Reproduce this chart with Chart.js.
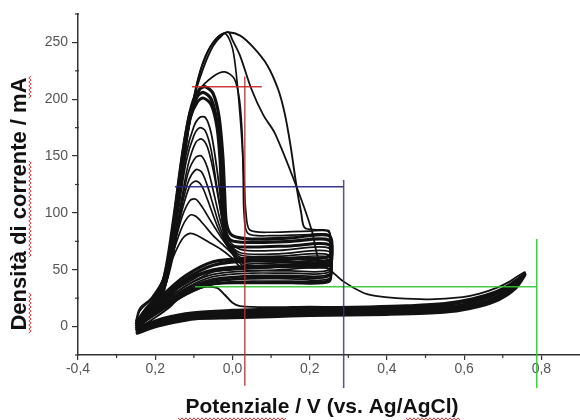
<!DOCTYPE html>
<html>
<head>
<meta charset="utf-8">
<script src="https://cdn.jsdelivr.net/npm/chart.js@4.4.1/dist/chart.umd.min.js"></script>
<style>
  html, body { margin: 0; padding: 0; background: #fff; }
  #wrap { width: 580px; height: 420px; position: relative; }
</style>
</head>
<body>
<div id="wrap"><canvas id="cvChart"></canvas></div>
<script>
// Tick labels (as printed on the original figure)
const xTickValues = [-0.4, -0.2, 0.0, 0.2, 0.4, 0.6, 0.8];
const xTickLabels = ["-0,4", "0,2", "0,0", "0,2", "0,4", "0,6", "0,8"];
const xMinorTicks = [-0.3, -0.1, 0.1, 0.3, 0.5, 0.7];
const yTickValues = [0, 50, 100, 150, 200, 250];
const yTickLabels = ["0", "50", "100", "150", "200", "250"];
const yMinorTicks = [-25, 25, 75, 125, 175, 225, 275];

const xTitle = "Potenziale / V (vs. Ag/AgCl)";
const yTitle = "Densità di corrente / mA";

// Cycles to 0.75 V (bottom band)
const baseCycle1 = [[-0.25,-6],[-0.2,0],[-0.15,4],[-0.1,7],[0.0,8],[0.1,9],[0.2,10],[0.3,10.5],[0.4,11],[0.5,12],[0.58,14],[0.64,18],[0.69,24],[0.73,33],[0.757,46],[0.73,38],[0.69,30],[0.64,23],[0.58,18],[0.5,16],[0.4,15],[0.3,14],[0.2,13.5],[0.1,13],[0.0,12],[-0.1,10],[-0.18,5],[-0.25,-4]];
const baseCycle2 = [[-0.25,-4],[-0.2,2],[-0.15,6],[-0.1,9],[0.0,10],[0.1,11],[0.2,12],[0.3,12.5],[0.4,13],[0.5,14],[0.58,16],[0.64,20],[0.69,27],[0.73,36],[0.755,45],[0.72,37],[0.68,30],[0.62,24],[0.55,20],[0.45,18],[0.35,17],[0.2,16],[0.1,15],[0.0,14],[-0.1,12],[-0.18,7],[-0.25,-2]];
const bumpCycle = [[-0.25,-3],[-0.2,8],[-0.16,18],[-0.13,28],[-0.105,33],[-0.07,35],[-0.04,34],[-0.02,28],[0.0,21],[0.02,18],[0.1,17],[0.2,17.5],[0.3,17],[0.45,17],[0.55,19],[0.65,25],[0.72,36],[0.757,47],[0.7,32],[0.6,22],[0.5,18],[0.3,15],[0.1,13],[-0.05,11],[-0.15,6],[-0.25,-3]];
const crescentCycle = [[-0.25,-6],[-0.2,1],[-0.15,5],[-0.1,8],[0.0,10],[0.1,11],[0.2,12],[0.3,12.5],[0.4,13],[0.5,14],[0.6,17],[0.66,22],[0.71,30],[0.74,38],[0.757,48],[0.72,40],[0.684,34],[0.64,29],[0.596,26],[0.51,24],[0.425,25],[0.37,27],[0.337,30],[0.286,40],[0.252,50],[0.226,56],[0.205,85],[0.166,123],[0.11,170],[0.08,186],[0.049,209],[0.02,238],[0.0,252],[-0.011,259],[-0.04,254],[-0.07,238],[-0.095,210],[-0.115,170],[-0.135,120],[-0.155,75],[-0.175,45],[-0.21,25],[-0.24,16],[-0.25,5]];

// Cycles with the large anodic peaks
const peak259Outer = [[-0.25,2],[-0.24,14],[-0.2,28],[-0.17,52],[-0.145,95],[-0.125,150],[-0.103,197],[-0.077,226],[-0.05,247],[-0.025,257],[-0.011,259],[0.02,256],[0.053,246],[0.09,230],[0.118,209],[0.135,188],[0.15,160],[0.166,123],[0.178,100],[0.187,87],[0.22,85],[0.25,84],[0.252,70],[0.25,56],[0.2,55],[0.1,52],[0.0,50],[-0.06,48],[-0.12,40],[-0.17,28],[-0.22,14],[-0.25,2]];
const peak259Inner = [[-0.25,4],[-0.23,14],[-0.19,32],[-0.16,65],[-0.14,110],[-0.12,160],[-0.1,200],[-0.08,228],[-0.05,250],[-0.02,258],[0.0,245],[0.012,215],[0.023,171],[0.03,130],[0.035,100],[0.045,85],[0.1,83],[0.2,84],[0.25,83],[0.25,58],[0.15,55],[0.05,53],[-0.05,50],[-0.12,38],[-0.18,25],[-0.23,12],[-0.25,4]];
const peak224 = [[-0.25,5],[-0.22,16],[-0.18,40],[-0.15,90],[-0.13,140],[-0.11,180],[-0.085,208],[-0.05,220],[-0.02,224],[0.005,218],[0.018,200],[0.025,170],[0.028,130],[0.03,100],[0.04,82],[0.1,80],[0.2,81],[0.25,80],[0.25,56],[0.15,53],[0.05,52],[-0.05,48],[-0.12,36],[-0.18,22],[-0.23,10],[-0.25,5]];
const peak211 = [[-0.25,2],[-0.22,14],[-0.19,30],[-0.165,60],[-0.145,110],[-0.125,160],[-0.105,195],[-0.085,209],[-0.07,211],[-0.05,205],[-0.035,185],[-0.025,150],[-0.02,115],[-0.015,90],[0.0,80],[0.05,77],[0.15,78],[0.25,80],[0.25,62],[0.15,60],[0.05,60],[-0.05,57],[-0.12,45],[-0.18,28],[-0.23,12],[-0.25,2]];
const peak206 = [[-0.25,0],[-0.22,12],[-0.19,27],[-0.17,55],[-0.15,100],[-0.13,150],[-0.11,188],[-0.09,203],[-0.075,206],[-0.055,200],[-0.04,180],[-0.03,148],[-0.025,112],[-0.02,88],[-0.005,76],[0.05,74],[0.15,75],[0.25,76],[0.25,58],[0.15,57],[0.05,58],[-0.05,54],[-0.12,42],[-0.18,25],[-0.23,10],[-0.25,0]];
const peak201 = [[-0.25,-2],[-0.22,10],[-0.19,25],[-0.17,50],[-0.15,95],[-0.13,145],[-0.11,183],[-0.09,198],[-0.075,201],[-0.055,195],[-0.04,175],[-0.032,145],[-0.028,110],[-0.022,85],[-0.01,72],[0.05,70],[0.15,71],[0.25,72],[0.25,54],[0.15,53],[0.05,53],[-0.05,50],[-0.12,40],[-0.18,22],[-0.23,8],[-0.25,-2]];

// Growing cycles (the fan)
const fan185 = [[-0.25,-3],[-0.21,10],[-0.18,28],[-0.16,58],[-0.14,108],[-0.12,152],[-0.1,176],[-0.085,184],[-0.07,184],[-0.055,170],[-0.04,138],[-0.028,105],[-0.018,80],[0.02,68],[0.12,67],[0.25,69],[0.25,50],[0.15,49],[0.05,49],[-0.05,46],[-0.12,36],[-0.18,20],[-0.23,6],[-0.25,-3]];
const fan175 = [[-0.25,-2],[-0.21,11],[-0.18,29],[-0.16,56],[-0.14,102],[-0.12,145],[-0.1,168],[-0.085,175],[-0.07,172],[-0.055,155],[-0.04,122],[-0.025,92],[-0.015,76],[0.02,65],[0.12,64],[0.25,66],[0.25,48],[0.15,47],[0.05,47],[-0.05,44],[-0.12,34],[-0.18,19],[-0.23,5],[-0.25,-2]];
const fan165 = [[-0.25,-1],[-0.21,12],[-0.18,30],[-0.155,60],[-0.135,105],[-0.115,142],[-0.095,162],[-0.08,165],[-0.065,158],[-0.05,138],[-0.035,110],[-0.022,86],[-0.012,74],[0.02,63],[0.12,62],[0.25,63],[0.25,46],[0.15,45],[0.05,45],[-0.05,42],[-0.12,33],[-0.18,18],[-0.23,5],[-0.25,-1]];
const fan150 = [[-0.25,0],[-0.21,13],[-0.18,32],[-0.155,62],[-0.135,102],[-0.115,135],[-0.095,149],[-0.08,150],[-0.065,140],[-0.05,120],[-0.035,98],[-0.02,80],[-0.01,72],[0.02,61],[0.12,60],[0.25,61],[0.25,45],[0.15,44],[0.05,44],[-0.05,41],[-0.12,32],[-0.18,17],[-0.23,4],[-0.25,0]];
const fan138 = [[-0.25,1],[-0.21,14],[-0.18,33],[-0.155,64],[-0.135,100],[-0.115,127],[-0.095,138],[-0.08,136],[-0.065,124],[-0.05,107],[-0.035,90],[-0.02,77],[-0.01,70],[0.02,59],[0.12,58],[0.25,59],[0.25,44],[0.15,43],[0.05,43],[-0.05,40],[-0.12,31],[-0.18,17],[-0.23,4],[-0.25,1]];
const fan127 = [[-0.25,2],[-0.21,15],[-0.18,34],[-0.155,66],[-0.13,103],[-0.11,124],[-0.095,128],[-0.08,124],[-0.065,112],[-0.05,98],[-0.035,85],[-0.02,75],[-0.01,69],[0.02,57],[0.12,56],[0.25,57],[0.25,42],[0.15,42],[0.05,42],[-0.05,39],[-0.12,30],[-0.18,16],[-0.23,4],[-0.25,2]];
const fan112 = [[-0.25,3],[-0.21,16],[-0.18,35],[-0.155,66],[-0.13,97],[-0.11,111],[-0.095,112],[-0.08,106],[-0.06,95],[-0.04,84],[-0.02,74],[0.0,66],[0.03,55],[0.12,54],[0.25,55],[0.25,41],[0.15,40],[0.05,40],[-0.05,38],[-0.12,29],[-0.18,16],[-0.23,4],[-0.25,3]];
const fan98 = [[-0.25,4],[-0.21,17],[-0.18,36],[-0.155,64],[-0.13,88],[-0.11,98],[-0.095,97],[-0.075,90],[-0.05,80],[-0.025,72],[0.0,64],[0.03,53],[0.12,52],[0.25,53],[0.25,40],[0.15,39],[0.05,39],[-0.05,37],[-0.12,28],[-0.18,15],[-0.23,4],[-0.25,4]];
const fan82 = [[-0.25,5],[-0.21,18],[-0.18,36],[-0.155,60],[-0.13,77],[-0.11,82],[-0.09,80],[-0.06,74],[-0.03,68],[0.0,60],[0.03,50],[0.12,50],[0.25,51],[0.25,39],[0.15,38],[0.05,38],[-0.05,37],[-0.12,28],[-0.18,15],[-0.23,5],[-0.25,5]];

// Reading guides drawn on the figure
const redHoriz = [[-0.105,211],[0.076,211]];
const redVert = [[0.032,220],[0.032,-52]];
const blueHoriz = [[-0.149,123],[0.288,123]];
const blueVert = [[0.288,129],[0.288,-54]];
const greenHoriz = [[-0.097,35],[0.788,35]];
const greenVert = [[0.788,77],[0.788,-54]];

function curve(points, width) {
    return {
        data: points.map((p) => ({ x: p[0], y: p[1] })),
        showLine: true,
        borderColor: "#111",
        borderWidth: width,
        pointRadius: 0,
        tension: 0.3,
        fill: false
    };
}

function guide(points, color) {
    return {
        data: points.map((p) => ({ x: p[0], y: p[1] })),
        showLine: true,
        borderColor: color,
        borderWidth: 1.5,
        pointRadius: 0,
        tension: 0,
        clip: false
    };
}

const datasets = [
    guide(redHoriz, "rgba(200,40,40,0.9)"),
    guide(redVert, "rgba(180,50,50,0.85)"),
    guide(blueHoriz, "rgba(35,35,130,0.9)"),
    guide(blueVert, "rgba(50,50,130,0.85)"),
    guide(greenHoriz, "rgba(50,200,50,0.9)"),
    guide(greenVert, "rgba(50,200,50,0.9)"),
    curve(baseCycle1, 3.6),
    curve(baseCycle2, 3.6),
    curve(bumpCycle, 2),
    curve(crescentCycle, 1.8),
    curve(peak259Outer, 1.9),
    curve(peak259Inner, 1.7),
    curve(peak224, 1.7),
    curve(peak211, 3.2),
    curve(peak206, 3.2),
    curve(peak201, 3),
    curve(fan185, 1.8),
    curve(fan175, 1.7),
    curve(fan165, 1.7),
    curve(fan150, 1.7),
    curve(fan138, 1.7),
    curve(fan127, 1.7),
    curve(fan112, 1.7),
    curve(fan98, 1.7),
    curve(fan82, 1.7)
];

const tickFont = { family: "'Liberation Sans', Arial, sans-serif", size: 14 };

// minor ticks, axis titles and the spell-check squiggles of the source image
const extrasPlugin = {
    id: "extras",
    afterDraw(chart) {
        const ctx = chart.ctx;
        const xs = chart.scales.x;
        const ys = chart.scales.y;
        const area = chart.chartArea;
        ctx.save();
        ctx.strokeStyle = "#333";
        ctx.lineWidth = 1.2;
        xMinorTicks.forEach((v) => {
            const px = xs.getPixelForValue(v);
            ctx.beginPath();
            ctx.moveTo(px, area.bottom - 1);
            ctx.lineTo(px, area.bottom + 3);
            ctx.stroke();
        });
        yMinorTicks.forEach((v) => {
            const py = ys.getPixelForValue(v);
            ctx.beginPath();
            ctx.moveTo(area.left + 1, py);
            ctx.lineTo(area.left - 3, py);
            ctx.stroke();
        });

        ctx.fillStyle = "#111";
        ctx.font = "bold 21px 'Liberation Sans', Arial, sans-serif";
        ctx.textAlign = "center";
        ctx.textBaseline = "middle";
        ctx.fillText(xTitle, 322, 407);
        ctx.save();
        ctx.translate(20, 204);
        ctx.rotate(-Math.PI / 2);
        ctx.font = "bold 22px 'Liberation Sans', Arial, sans-serif";
        ctx.fillText(yTitle, 0, 0);
        ctx.restore();

        // red wavy underlines
        ctx.strokeStyle = "rgba(220,40,40,0.9)";
        ctx.lineWidth = 1;
        const waveH = (x0, x1, y) => {
            ctx.beginPath();
            for (let x = x0, i = 0; x <= x1; x += 2, i++) {
                const yy = y + (i % 2 ? 1.2 : -1.2);
                if (i === 0) ctx.moveTo(x, yy); else ctx.lineTo(x, yy);
            }
            ctx.stroke();
        };
        const waveV = (y0, y1, x) => {
            ctx.beginPath();
            for (let y = y0, i = 0; y >= y1; y -= 2, i++) {
                const xx = x + (i % 2 ? 1.2 : -1.2);
                if (i === 0) ctx.moveTo(xx, y); else ctx.lineTo(xx, y);
            }
            ctx.stroke();
        };
        waveH(178, 287, 419);
        waveH(406, 460, 419);
        waveV(333, 292, 30);
        waveV(257, 160, 30);
        waveV(98, 75, 30);
        ctx.restore();
    }
};

new Chart(document.getElementById("cvChart").getContext("2d"), {
    type: "scatter",
    data: { datasets: datasets },
    options: {
        responsive: true,
        maintainAspectRatio: false,
        animation: false,
        layout: { padding: { top: 14, right: 0, left: 0, bottom: 0 } },
        plugins: {
            legend: { display: false },
            tooltip: { enabled: false }
        },
        scales: {
            x: {
                type: "linear",
                min: -0.4,
                max: 0.9,
                afterBuildTicks: (scale) => {
                    scale.ticks = xTickValues.map((v) => ({ value: v }));
                },
                afterFit: (scale) => { scale.height = 65; },
                ticks: {
                    color: "#555",
                    font: tickFont,
                    padding: 1,
                    maxRotation: 0,
                    callback: (value) => {
                        const i = xTickValues.findIndex((v) => Math.abs(v - value) < 1e-6);
                        return i >= 0 ? xTickLabels[i] : "";
                    }
                },
                grid: { drawOnChartArea: false, drawTicks: true, tickLength: 5, color: "#333", lineWidth: 1.2 },
                border: { display: true, color: "#333", width: 1.5 }
            },
            y: {
                type: "linear",
                min: -25,
                max: 275,
                afterBuildTicks: (scale) => {
                    scale.ticks = yTickValues.map((v) => ({ value: v }));
                },
                afterFit: (scale) => { scale.width = 78; },
                ticks: {
                    color: "#555",
                    font: tickFont,
                    padding: 4,
                    callback: (value) => {
                        const i = yTickValues.indexOf(value);
                        return i >= 0 ? yTickLabels[i] : "";
                    }
                },
                grid: { drawOnChartArea: false, drawTicks: true, tickLength: 6, color: "#333", lineWidth: 1.2 },
                border: { display: true, color: "#333", width: 1.5 }
            }
        }
    },
    plugins: [extrasPlugin]
});
</script>
</body>
</html>
